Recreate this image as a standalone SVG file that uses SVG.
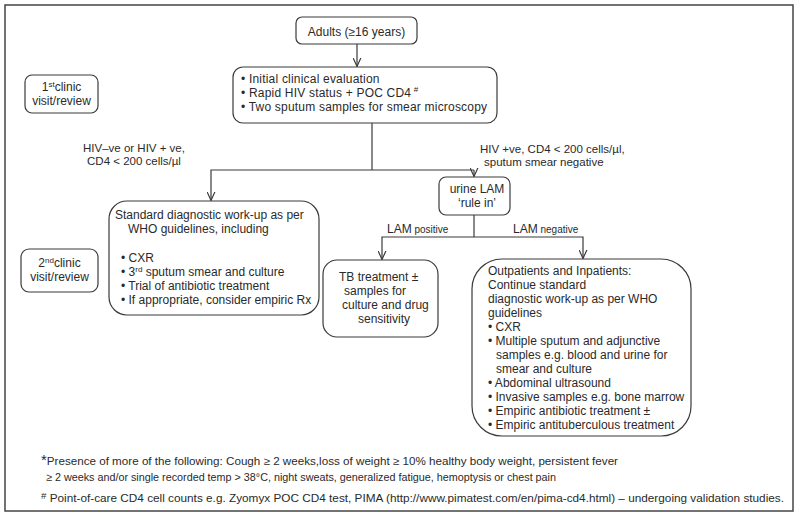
<svg xmlns="http://www.w3.org/2000/svg" width="800" height="518" viewBox="0 0 800 518">
<defs>
<style>
text{font-family:"Liberation Sans",Arial,sans-serif;fill:#2a2a2a;font-size:12px}
.box{fill:#fff;stroke:#3a3a3a;stroke-width:1.2}
.ln{fill:none;stroke:#3a3a3a;stroke-width:1.2}
.lbl{font-size:11.5px}
.sm{font-size:10px}
.fn{font-size:11px}
.ws{letter-spacing:0.2px}
</style>
<marker id="ah" viewBox="0 0 10 10" refX="10" refY="5" markerWidth="9" markerHeight="9" markerUnits="userSpaceOnUse" orient="auto">
<path d="M0,0.5 L10,5 L0,9.5" fill="none" stroke="#3a3a3a" stroke-width="1.3"/>
</marker>
</defs>
<rect x="0" y="0" width="800" height="518" fill="#fff"/>
<rect x="5" y="5" width="788" height="506" fill="none" stroke="#444" stroke-width="1.5"/>

<g id="connectors">
<line class="ln" x1="357" y1="44" x2="357" y2="66.5" marker-end="url(#ah)"/>
<polyline class="ln" points="372,123 372,170"/>
<polyline class="ln" points="474,170 211,170 211,200.5" marker-end="url(#ah)"/>
<line class="ln" x1="474" y1="170" x2="474" y2="176.5" marker-end="url(#ah)"/>
<polyline class="ln" points="474,215 474,237"/>
<polyline class="ln" points="474,237 382,237 382,259.5" marker-end="url(#ah)"/>
<polyline class="ln" points="474,237 583,237 583,258.5" marker-end="url(#ah)"/>
<text x="387" y="233"><tspan>LAM</tspan><tspan class="sm"> positive</tspan></text>
<text x="513" y="233"><tspan>LAM</tspan><tspan class="sm"> negative</tspan></text>
<text class="lbl" x="134" y="152" text-anchor="middle">HIV–ve or HIV + ve,</text>
<text class="lbl" x="134" y="165" text-anchor="middle">CD4 &lt; 200 cells/µl</text>
<text class="lbl" x="480" y="153">HIV +ve, CD4 &lt; 200 cells/µl,</text>
<text class="lbl" x="484" y="166">sputum smear negative</text>
</g>

<g id="adults">
<rect class="box" x="296" y="17" width="121" height="27" rx="6"/>
<text x="356.5" y="36" text-anchor="middle">Adults (≥16 years)</text>
</g>

<g id="initial">
<rect class="box" x="233" y="67" width="264" height="56" rx="10"/>
<text class="ws" x="241" y="83">• Initial clinical evaluation</text>
<text class="ws" x="241" y="97">• Rapid HIV status + POC CD4<tspan font-size="8" dy="-5"> #</tspan></text>
<text class="ws" x="241" y="111">• Two sputum samples for smear microscopy</text>
</g>

<g id="visit1">
<rect class="box" x="25" y="75" width="73" height="38" rx="7"/>
<text x="61.5" y="91" text-anchor="middle">1<tspan font-size="8" dy="-4">st</tspan><tspan dy="4">clinic</tspan></text>
<text x="61.5" y="105" text-anchor="middle">visit/review</text>
</g>

<g id="visit2">
<rect class="box" x="21" y="249" width="77" height="43" rx="8"/>
<text x="59.5" y="267" text-anchor="middle">2<tspan font-size="8" dy="-4">nd</tspan><tspan dy="4">clinic</tspan></text>
<text x="59.5" y="281" text-anchor="middle">visit/review</text>
</g>

<g id="standard">
<rect class="box" x="109" y="201" width="210" height="114" rx="18"/>
<text x="115" y="219">Standard diagnostic work-up as per</text>
<text x="128" y="233">WHO guidelines, including</text>
<text x="121" y="262">• CXR</text>
<text x="121" y="276">• 3<tspan font-size="8" dy="-4">rd</tspan><tspan dy="4"> sputum smear and culture</tspan></text>
<text x="121" y="290">• Trial of antibiotic treatment</text>
<text x="121" y="304">• If appropriate, consider empiric Rx</text>
</g>

<g id="urine">
<rect class="box" x="439" y="177" width="71" height="38" rx="7"/>
<text x="477" y="193" text-anchor="middle">urine LAM</text>
<text x="477" y="207" text-anchor="middle">‘rule in’</text>
</g>

<g id="tb">
<rect class="box" x="323" y="260" width="115" height="77" rx="14"/>
<text x="339" y="281">TB treatment ±</text>
<text x="344" y="295">samples for</text>
<text x="342" y="309">culture and drug</text>
<text x="358" y="323">sensitivity</text>
</g>

<g id="outpatients">
<rect class="box" x="472" y="259" width="219" height="177" rx="30"/>
<text x="488" y="275">Outpatients and Inpatients:</text>
<text x="488" y="289">Continue standard</text>
<text x="488" y="303">diagnostic work-up as per WHO</text>
<text x="488" y="317">guidelines</text>
<text x="488" y="331">• CXR</text>
<text x="488" y="345">• Multiple sputum and adjunctive</text>
<text x="496" y="359">samples e.g. blood and urine for</text>
<text x="496" y="373">smear and culture</text>
<text x="488" y="387">• Abdominal ultrasound</text>
<text x="488" y="401">• Invasive samples e.g. bone marrow</text>
<text x="488" y="415">• Empiric antibiotic treatment ±</text>
<text x="488" y="429">• Empiric  antituberculous treatment</text>
</g>

<g id="footnotes">
<text class="fn" x="41" y="465" textLength="577" lengthAdjust="spacingAndGlyphs"><tspan font-size="14">*</tspan>Presence of more of the following: Cough ≥ 2 weeks,loss of weight ≥ 10% healthy body weight, persistent fever</text>
<text class="fn" x="46" y="481" textLength="510" lengthAdjust="spacingAndGlyphs">≥ 2 weeks and/or single recorded temp &gt; 38°C, night sweats, generalized fatigue, hemoptysis or chest pain</text>
<text class="fn" x="41" y="502" textLength="743" lengthAdjust="spacingAndGlyphs"><tspan font-size="9" dy="-3">#</tspan><tspan dy="3"> Point-of-care CD4 cell counts e.g. Zyomyx POC CD4 test, PIMA (http://www.pimatest.com/en/pima-cd4.html) – undergoing validation studies.</tspan></text>
</g>
</svg>
